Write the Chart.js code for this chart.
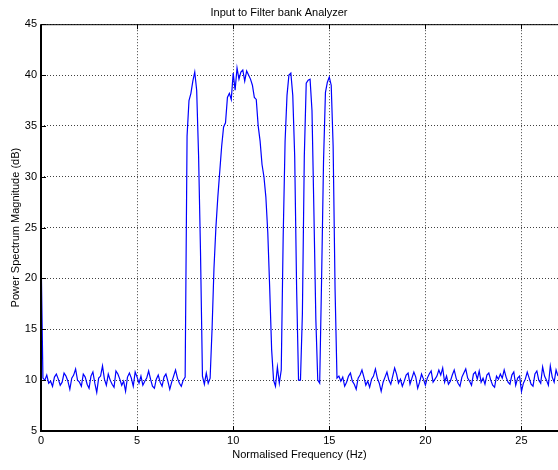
<!DOCTYPE html>
<html>
<head>
<meta charset="utf-8">
<title>Input to Filter bank Analyzer</title>
<script src="https://cdn.jsdelivr.net/npm/chart.js@4"></script>
<style>
	body { margin: 0; background: #fff; }
	#wrap { width: 558px; height: 470px; }
</style>
</head>
<body>
<div id="wrap"><canvas id="specChart"></canvas></div>
<script>
// spectrum sampled every 0.1 Hz, one row per Hz
const stepHz = 0.1;
const powerDb = [
	23.0, 10.2, 10.0, 10.5, 9.7, 9.9, 9.4, 10.3, 10.6, 10.1,
	9.5, 9.8, 10.7, 10.4, 9.9, 9.1, 10.2, 10.5, 11.1, 10.0,
	9.8, 9.4, 10.6, 10.3, 9.6, 9.2, 10.4, 10.8, 9.7, 8.8,
	10.2, 10.4, 11.4, 10.1, 9.5, 10.6, 10.0, 9.6, 9.3, 10.9,
	10.6, 10.1, 9.5, 9.9, 8.9, 10.3, 10.7, 10.2, 9.4, 10.8,
	10.3, 9.7, 10.4, 9.5, 9.9, 10.2, 10.9, 10.1, 9.4, 9.2,
	10.1, 10.5, 9.8, 9.4, 10.3, 10.6, 9.9, 9.1, 9.8, 10.4,
	11.0, 10.2, 9.7, 9.4, 10.0, 10.3, 34.0, 37.5, 38.2, 39.4,
	40.3, 38.5, 32.0, 22.5, 10.4, 9.6, 10.7, 9.7, 10.2, 15.0,
	21.0, 25.0, 28.0, 30.5, 33.0, 34.9, 35.3, 37.8, 38.2, 37.6,
	40.2, 38.5, 40.7, 39.6, 40.3, 40.5, 39.4, 40.4, 40.0, 39.6,
	39.0, 37.8, 37.6, 35.0, 33.5, 31.2, 30.0, 28.0, 24.5, 19.0,
	13.0, 10.0, 9.4, 11.3, 9.7, 11.0, 24.0, 33.5, 38.0, 40.0,
	40.2, 38.0, 32.0, 19.0, 10.0, 10.0, 16.5, 32.0, 39.2, 39.5,
	39.6, 36.5, 26.5, 16.0, 10.0, 9.7, 20.0, 31.5, 38.3, 39.3,
	39.8, 39.0, 33.0, 19.0, 10.2, 10.4, 9.9, 10.3, 9.4, 9.8,
	10.4, 10.7, 9.9, 9.6, 9.1, 10.2, 10.5, 11.0, 10.3, 9.5,
	9.9, 9.3, 10.1, 10.4, 11.1, 10.2, 9.7, 8.9, 9.8, 10.3,
	10.8, 10.0, 9.6, 10.4, 11.2, 10.6, 9.7, 10.1, 9.4, 9.9,
	10.5, 10.7, 9.6, 10.2, 10.8, 10.3, 9.2, 9.8, 10.6, 10.1,
	9.5, 10.2, 10.6, 10.9, 9.8, 10.1, 10.4, 11.0, 10.5, 11.2,
	9.8, 10.4, 9.6, 9.9, 10.5, 11.0, 10.2, 9.7, 9.4, 10.3,
	10.7, 11.1, 10.2, 9.9, 9.5, 10.6, 10.8, 10.1, 10.9, 9.8,
	10.2, 9.6, 10.5, 10.7, 10.0, 9.5, 9.3, 10.4, 10.1, 10.6,
	10.2, 11.0, 10.3, 9.8, 9.6, 10.5, 10.8, 9.5, 10.2, 10.4,
	8.9, 9.7, 10.1, 10.8, 10.2, 9.6, 9.4, 10.6, 10.9, 10.0,
	9.7, 11.3, 10.4, 10.0, 9.5, 11.4, 10.3, 9.8, 11.0, 10.4
];
const xTicks = [0, 5, 10, 15, 20, 25];
const yTicks = [5, 10, 15, 20, 25, 30, 35, 40, 45];
const xRange = [0, 26.9];
const yRange = [5, 45];

const points = powerDb.map((v, i) => ({ x: +(i * stepHz).toFixed(1), y: v }));
const font = { family: "'Liberation Sans', Arial, sans-serif", size: 11 };

// matlab style box: thick left/bottom, thin top, inner tick marks
const axesBox = {
	id: 'axesBox',
	afterDraw(chart) {
		const { ctx, chartArea: a, scales } = chart;
		ctx.save();
		ctx.strokeStyle = '#000';
		ctx.lineWidth = 1;
		ctx.beginPath();
		xTicks.forEach(t => {
			const px = Math.round(scales.x.getPixelForValue(t)) + 0.5;
			ctx.moveTo(px, a.bottom); ctx.lineTo(px, a.bottom - 5);
			ctx.moveTo(px, a.top); ctx.lineTo(px, a.top + 5);
		});
		yTicks.forEach(t => {
			const py = Math.round(scales.y.getPixelForValue(t)) + 0.5;
			ctx.moveTo(a.left, py); ctx.lineTo(a.left + 5, py);
		});
		ctx.moveTo(a.left, a.top + 0.5); ctx.lineTo(a.right, a.top + 0.5);
		ctx.stroke();
		ctx.lineWidth = 2;
		ctx.beginPath();
		ctx.moveTo(a.left, a.top);
		ctx.lineTo(a.left, a.bottom);
		ctx.lineTo(a.right, a.bottom);
		ctx.stroke();
		ctx.restore();
	}
};

new Chart(document.getElementById('specChart'), {
	type: 'line',
	data: {
		datasets: [{
			data: points,
			borderColor: '#0000ff',
			borderWidth: 1.2,
			pointRadius: 0,
			tension: 0,
			fill: false
		}]
	},
	options: {
		responsive: true,
		maintainAspectRatio: false,
		animation: false,
		layout: { padding: { left: 0, right: 0, top: 0, bottom: 0 } },
		plugins: {
			legend: { display: false },
			tooltip: { enabled: false },
			title: {
				display: true,
				text: 'Input to Filter bank Analyzer',
				color: '#000',
				font: { ...font, weight: 'normal' },
				padding: { top: 6, bottom: 5 }
			}
		},
		scales: {
			x: {
				type: 'linear',
				min: xRange[0],
				max: xRange[1],
				afterBuildTicks(scale) {
					scale.ticks = xTicks.map(v => ({ value: v }));
				},
				afterFit(scale) { scale.height = 39; },
				ticks: { color: '#000', font, padding: 3, maxRotation: 0 },
				grid: { color: 'rgba(0,0,0,0.75)', drawTicks: false },
				border: { display: false, dash: [1, 2] },
				title: {
					display: true,
					text: 'Normalised Frequency (Hz)',
					color: '#000',
					font,
					padding: { top: 0, bottom: 8 }
				}
			},
			y: {
				min: yRange[0],
				max: yRange[1],
				afterBuildTicks(scale) {
					scale.ticks = yTicks.map(v => ({ value: v }));
				},
				afterFit(scale) { scale.width = 41; },
				ticks: { color: '#000', font, padding: 4 },
				grid: { color: 'rgba(0,0,0,0.75)', drawTicks: false },
				border: { display: false, dash: [1, 2] },
				title: {
					display: true,
					text: 'Power Spectrum Magnitude (dB)',
					color: '#000',
					font,
					padding: { top: 9, bottom: 0 }
				}
			}
		}
	},
	plugins: [axesBox]
});
</script>
</body>
</html>
